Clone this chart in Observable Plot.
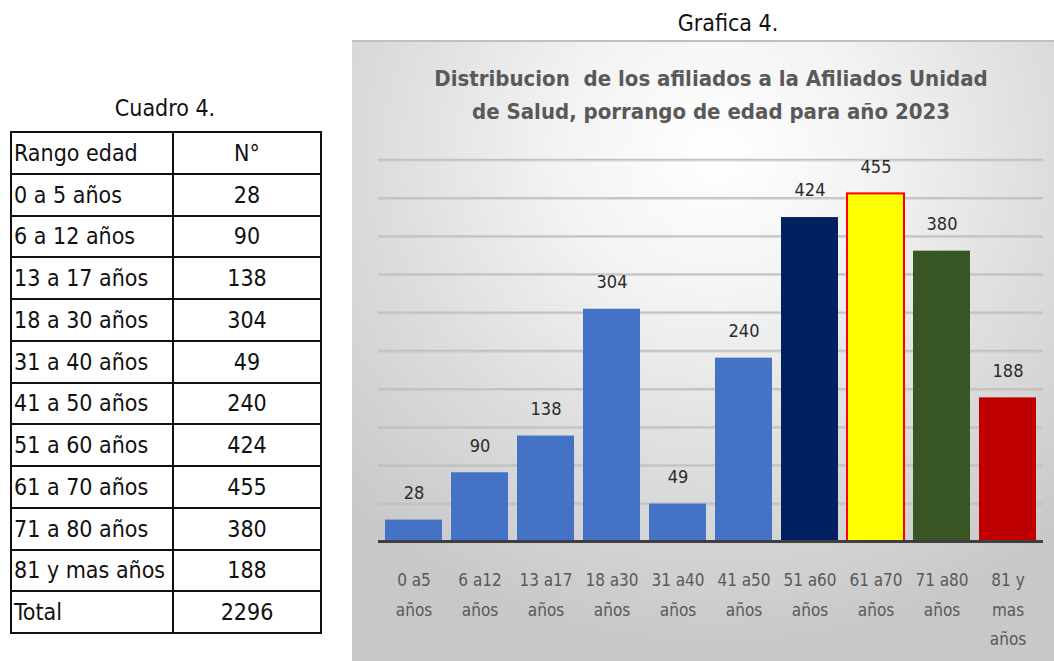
<!DOCTYPE html>
<html>
<head>
<meta charset="utf-8">
<script src="https://cdn.jsdelivr.net/npm/d3@7"></script>
<script src="https://cdn.jsdelivr.net/npm/@observablehq/plot@0.6"></script>
<style>
  html, body { margin: 0; padding: 0; background: #ffffff; }
  body { width: 1054px; height: 661px; position: relative; overflow: hidden;
         font-family: "Liberation Sans Narrow", "DejaVu Sans Condensed", sans-serif; }
  #cuadroTitle { position: absolute; left: 10px; width: 310px; top: 95px; text-align: center;
                 font-size: 23px; color: #111; }
  #tabla { position: absolute; left: 10px; top: 131px; border-collapse: collapse; }
  #tabla td { border: 2px solid #111; padding: 0 0 0 2px; font-size: 23px; color: #111;
              box-sizing: border-box; }
  #tabla td.c1 { width: 162px; }
  #tabla td.c2 { width: 148px; text-align: center; padding: 0; }
  #graficaTitle { position: absolute; left: 628px; width: 200px; top: 10px; text-align: center;
                  font-size: 23px; color: #111; }
  #panel { position: absolute; left: 352px; top: 40px; width: 702px; height: 621px;
           background: radial-gradient(ellipse 75% 80% at 52% 18%, #ffffff 0%, #f3f3f3 30%, #dcdcdc 65%, #c8c8c8 100%);
           border-top: 2px solid #c0c0c0; box-sizing: border-box; }
  #chartTitle { position: absolute; left: 352px; width: 718px; top: 62px; text-align: center;
                font-size: 22px; font-weight: bold; color: #595959; line-height: 33px; }
  #chart { position: absolute; left: 352px; top: 140px; }
</style>
</head>
<body>
<div id="cuadroTitle">Cuadro 4.</div>
<table id="tabla"></table>
<div id="graficaTitle">Grafica 4.</div>
<div id="panel"></div>
<div id="chartTitle">Distribucion&nbsp; de los afiliados a la Afiliados Unidad<br>de Salud, porrango de edad para año 2023</div>
<div id="chart"></div>
<script>
// ---- data ----
const tableHeader = ["Rango edad", "N°"];
const rangos = ["0 a 5 años", "6 a 12 años", "13 a 17 años", "18 a 30 años", "31 a 40 años",
                "41 a 50 años", "51 a 60 años", "61 a 70 años", "71 a 80 años", "81 y mas años"];
const axisLabels = ["0 a5\naños", "6 a12\naños", "13 a17\naños", "18 a30\naños", "31 a40\naños",
                    "41 a50\naños", "51 a60\naños", "61 a70\naños", "71 a80\naños", "81 y\nmas\naños"];
const valores = [28, 90, 138, 304, 49, 240, 424, 455, 380, 188];
const totalLabel = "Total";
const totalValor = 2296;
const barColors = ["#4472C4", "#4472C4", "#4472C4", "#4472C4", "#4472C4",
                   "#4472C4", "#002060", "#FFFF00", "#375623", "#C00000"];
const barStrokes = [null, null, null, null, null, null, null, "#FF0000", null, null];
const gridValues = [50, 100, 150, 200, 250, 300, 350, 400, 450, 500];

// ---- table ----
const tabla = document.getElementById("tabla");
const rows = [tableHeader, ...rangos.map((r, i) => [r, String(valores[i])]), [totalLabel, String(totalValor)]];
for (const r of rows) {
  const tr = document.createElement("tr");
  const a = document.createElement("td"); a.className = "c1"; a.textContent = r[0];
  const b = document.createElement("td"); b.className = "c2"; b.textContent = r[1];
  tr.append(a, b);
  tabla.append(tr);
}
tabla.querySelectorAll("tr").forEach(tr => tr.style.height = "41.75px");
tabla.querySelectorAll("td").forEach(td => { td.style.height = "41.75px"; td.style.lineHeight = "36px"; });

// ---- chart ----
const data = axisLabels.map((lab, i) => ({lab, v: valores[i], fill: barColors[i], stroke: barStrokes[i]}));

const chart = Plot.plot({
  width: 702,
  height: 521,
  marginLeft: 26,
  marginRight: 11,
  marginTop: 19,
  marginBottom: 120,
  style: {background: "transparent", fontFamily: "\"Liberation Sans Narrow\", \"DejaVu Sans Condensed\", sans-serif", overflow: "visible"},
  x: {domain: axisLabels, paddingInner: 0.14, paddingOuter: 0.075, label: null},
  y: {domain: [0, 500], axis: null},
  marks: [
    Plot.ruleY(gridValues, {stroke: "#b8b8b8", strokeWidth: 2, dy: 1, strokeOpacity: 0.5}),
    Plot.ruleY(gridValues, {stroke: "#c2c2c2", strokeWidth: 1.5}),
    Plot.barY(data, {x: "lab", y: "v", fill: "fill", stroke: d => d.stroke ?? "none", strokeWidth: 2}),
    Plot.ruleY([0], {stroke: "#3f3f3f", strokeWidth: 3}),
    Plot.text(data, {x: "lab", y: "v", text: d => String(d.v), dy: -27, fontSize: 18, fill: "#2b2b2b"}),
    Plot.axisX({tickSize: 0, tickPadding: 0, fontSize: 17, color: "#595959", lineHeight: 1.72,
                textAnchor: "middle", lineAnchor: "top", dy: 24, label: null})
  ]
});
document.getElementById("chart").append(chart);
</script>
</body>
</html>
